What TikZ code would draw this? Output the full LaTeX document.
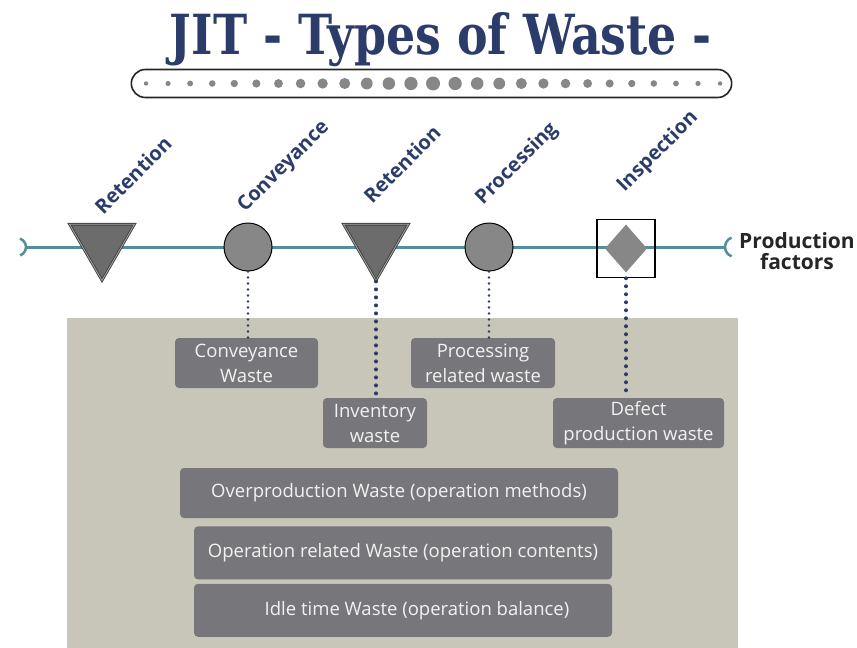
\documentclass[tikz,border=0pt]{standalone}
\usepackage{fontspec}
\usepackage{graphicx}
\usepackage{tikz}
\usetikzlibrary{shapes.geometric}
\usetikzlibrary{shapes.misc}
\usetikzlibrary{positioning}
\setmainfont{Open Sans}
\newfontfamily\titlefont{DejaVu Serif}
\definecolor{navy}{HTML}{2C3C6A}
\definecolor{teal}{HTML}{528E9B}
\definecolor{panel}{HTML}{C8C6B8}
\definecolor{boxgray}{HTML}{77777B}
\definecolor{dotgray}{HTML}{878787}
\definecolor{trifill}{HTML}{6C6C6C}
\tikzstyle{tri} = [regular polygon, regular polygon sides=3, shape border rotate=180, minimum size=75pt, inner sep=0pt, fill=trifill, draw=black!75, double=black!35, double distance=0.8pt, line width=0.9pt]
\tikzstyle{station} = [circle, minimum size=48pt, inner sep=0pt, fill=dotgray, draw=black, line width=1pt]
\tikzstyle{steplabel} = [rotate=45, text=navy, font=\bfseries\fontsize{20}{20}\selectfont]
\tikzstyle{wastebox} = [rectangle, rounded corners=4pt, minimum height=50pt, text centered, align=center, inner sep=0pt, fill=boxgray, text=black!5, font=\fontsize{18.5}{25}\selectfont]
\tikzstyle{flowline} = [teal, line width=3pt]
\tikzstyle{thindots} = [navy, line width=2.6pt, dash pattern=on 0pt off 6pt, line cap=round]
\tikzstyle{thickdots} = [navy, line width=4pt, dash pattern=on 0pt off 8pt, line cap=round]

\begin{document}
\begin{tikzpicture}[x=1pt, y=-1pt]
    \useasboundingbox (0,0) rectangle (857,648);
    % title and dotted bar
    \node (title) at (441,40) [inner sep=0pt, text=navy] {\resizebox{542pt}{42pt}{\titlefont\bfseries JIT - Types of Waste -}};
    \node (pill) at (431.5,83.5) [rounded rectangle, draw=black!85, line width=1.6pt, minimum width=607pt, minimum height=28pt] {};
    \foreach \i in {0,...,26} {
        \pgfmathsetmacro{\rad}{2.2+4.8*(1-abs(\i-13)/13)}
        \fill[dotgray] (146+22.08*\i,83.5) circle[radius=\rad pt];
    }

    % background panel
    \fill[panel] (67,318) rectangle (738,648);

    % flow line
    \coordinate (lineStart) at (26,247);
    \coordinate (lineEnd) at (725,247);
    \draw [flowline] (lineStart) -- (lineEnd);
    \draw [flowline, line width=2.5pt] ([xshift=-9pt]lineStart) ++(-70:9pt) arc[start angle=-70, end angle=70, radius=9pt];
    \draw [flowline, line width=2.5pt] ([xshift=10pt]lineEnd) ++(110:10pt) arc[start angle=110, end angle=250, radius=10pt];

    % stations
    \node (retention1) at (102,243) [tri] {};
    \node (conveyance) at (248,247) [station] {};
    \node (retention2) at (376,243) [tri] {};
    \node (processing) at (489,247) [station] {};
    \node (inspection) at (626,248.5) [rectangle, draw=black, line width=1.5pt, minimum size=58pt] {};
    \node (inspDiamond) at (inspection.center) [diamond, fill=dotgray, minimum width=42pt, minimum height=48pt, inner sep=0pt] {};

    \node (retLabel1) at (133,175) [steplabel] {Retention};
    \node (convLabel) at (284,167) [steplabel] {Conveyance};
    \node (retLabel2) at (402,164) [steplabel] {Retention};
    \node (procLabel) at (517,164) [steplabel] {Processing};
    \node (inspLabel) at (658,152) [steplabel] {Inspection};
    \node (prodFactors) at (797,251) [align=center, text=black!85, font=\bfseries\fontsize{21}{21}\selectfont] {Production\\factors};

    % waste boxes
    \node (convWaste) at (246.5,363) [wastebox, minimum width=143pt] {Conveyance\\Waste};
    \node (procWaste) at (483,363) [wastebox, minimum width=144pt] {Processing\\related waste};
    \node (invWaste) at (375,423) [wastebox, minimum width=104pt] {Inventory\\waste};
    \node (defectWaste) at (638.5,423) [wastebox, minimum width=171pt] {Defect\\production waste};
    \node (overWaste) at (399,493) [wastebox, minimum width=438pt] {Overproduction Waste (operation methods)};
    \node (operWaste) [wastebox, minimum width=418pt, minimum height=53pt, below=8pt of overWaste, xshift=4pt] {Operation related Waste (operation contents)};
    \node (idleWaste) [wastebox, minimum width=418pt, minimum height=53pt, below=4pt of operWaste] {\hspace{28pt}Idle time Waste (operation balance)};

    \draw [thindots] (conveyance.south) -- (conveyance |- convWaste.north);
    \draw [thickdots] (retention2.south) -- (retention2 |- invWaste.north);
    \draw [thindots] (processing.south) -- (processing |- procWaste.north);
    \draw [thickdots] (inspection.south) -- (inspection |- defectWaste.north);
\end{tikzpicture}
\end{document}
